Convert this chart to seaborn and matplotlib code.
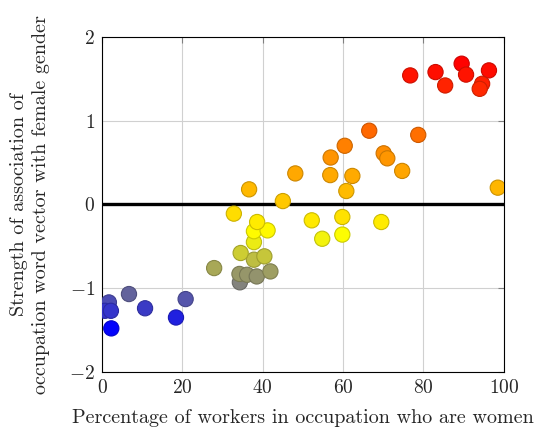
import matplotlib
matplotlib.use('Agg')
import numpy as np
import pandas as pd
import seaborn as sns
import matplotlib.pyplot as plt
from matplotlib.colors import LinearSegmentedColormap

# percentage of women in occupation vs. gender association of word vector
pct_women = [1.7, 0.7, 2.2, 2.3, 6.7, 10.7, 18.4, 20.8,
             27.9, 34.3, 34.2, 36.1, 38.5, 41.9, 37.8, 40.4, 34.5,
             37.8, 37.8, 41.2, 38.6, 32.8, 36.6, 45.0,
             48.1, 52.2, 54.8, 59.8, 59.8, 69.5,
             56.9, 56.8, 60.4, 62.3, 60.8, 66.5, 70.1, 71.0, 74.7, 78.7,
             76.7, 83.0, 85.4, 89.5, 90.6, 96.3, 94.6, 94.0, 98.5]
assoc = [-1.17, -1.27, -1.27, -1.48, -1.07, -1.24, -1.35, -1.13,
         -0.76, -0.93, -0.83, -0.84, -0.86, -0.80, -0.66, -0.62, -0.58,
         -0.45, -0.32, -0.31, -0.21, -0.11, 0.18, 0.04,
         0.37, -0.19, -0.41, -0.15, -0.36, -0.21,
         0.56, 0.35, 0.70, 0.34, 0.16, 0.88, 0.61, 0.55, 0.40, 0.83,
         1.54, 1.58, 1.42, 1.68, 1.55, 1.60, 1.44, 1.38, 0.20]

df = pd.DataFrame({'pct': pct_women, 'assoc': assoc})

sns.set_style('white')
plt.rcParams['font.family'] = ['cmr10', 'DejaVu Serif']
plt.rcParams['mathtext.fontset'] = 'cm'
plt.rcParams['axes.formatter.use_mathtext'] = True

lo, hi = -1.5, 1.7
stops = [(-1.5, '#0000ff'), (-0.95, '#808080'), (-0.35, '#ffff00'),
         (0.1, '#ffc000'), (0.5, '#ff9c00'), (0.9, '#ff6600'), (1.7, '#ff0000')]
cmap = LinearSegmentedColormap.from_list(
    'gender', [((v - lo) / (hi - lo), c) for v, c in stops])
norm = plt.Normalize(lo, hi)

fig = plt.figure(figsize=(5.4, 4.29), dpi=100)
ax = fig.add_axes([0.189, 0.133, 0.744, 0.781])

ax.axhline(0, color='black', lw=2.4, zorder=2)
sns.scatterplot(data=df, x='pct', y='assoc', hue='assoc', palette=cmap,
                hue_norm=norm, s=120, linewidth=0.8, legend=False,
                ax=ax, zorder=3)

# darker outline for each marker
coll = ax.collections[0]
fc = coll.get_facecolors()
ec = fc.copy()
ec[:, :3] = ec[:, :3] * 0.8
coll.set_edgecolors(ec)

ax.set_xlim(0, 100)
ax.set_ylim(-2, 2)
ax.set_xticks([0, 20, 40, 60, 80, 100])
ax.set_yticks([-2, -1, 0, 1, 2])
ax.grid(True, color='#d0d0d0', lw=0.8, zorder=0)
ax.set_axisbelow(True)
for sp in ax.spines.values():
    sp.set_color('black')
    sp.set_linewidth(0.8)
ax.tick_params(direction='in', length=4, color='#808080', labelsize=14,
               top=True, right=True, pad=5)

ax.set_xlabel('Percentage of workers in occupation who are women', fontsize=14.5, labelpad=9)
ax.set_ylabel('Strength of association of\noccupation word vector with female gender',
              fontsize=14.5, labelpad=14, linespacing=1.25)

fig.savefig('out.png', dpi=100)
